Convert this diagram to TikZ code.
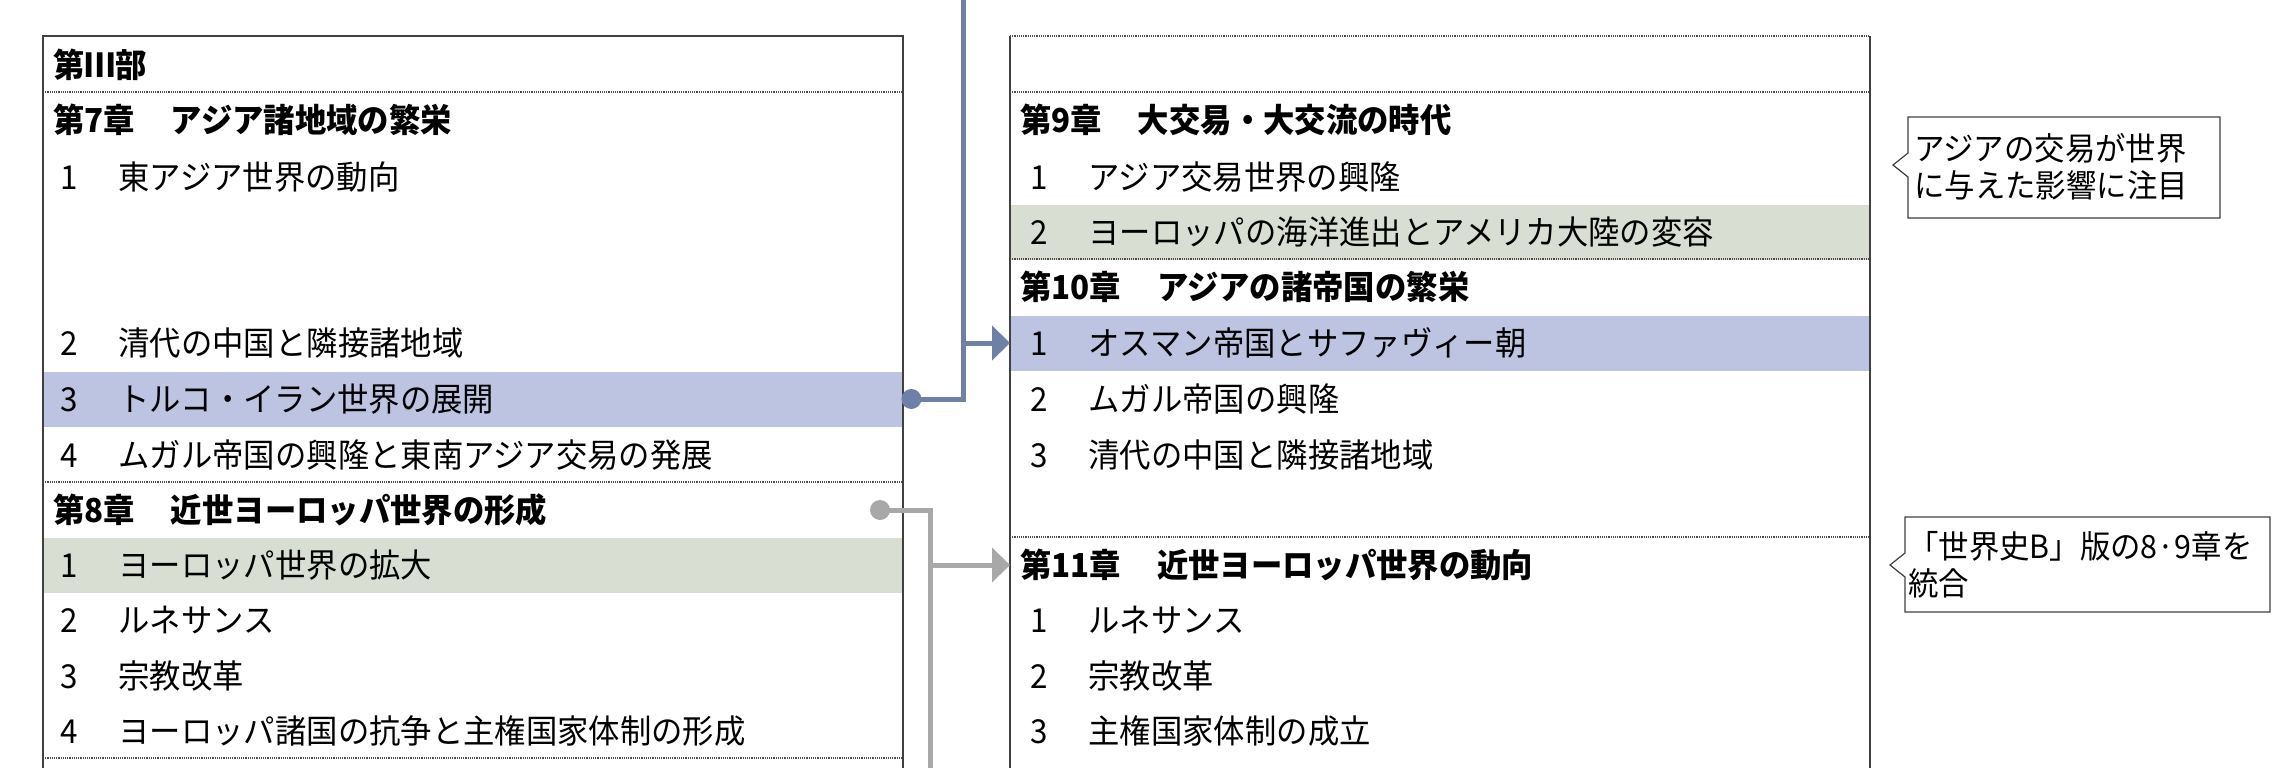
\documentclass[tikz,border=0pt]{standalone}
\usepackage{fontspec}
\usetikzlibrary{arrows.meta}
\newfontfamily\jp[FakeStretch=0.95]{Noto Sans CJK JP}
\definecolor{bandblue}{RGB}{189,196,225}
\definecolor{bandgreen}{RGB}{217,222,211}
\definecolor{linkblue}{RGB}{110,127,168}
\definecolor{linkgray}{RGB}{168,168,168}
\newcommand{\numgap}{\hspace{41pt}}
\newcommand{\headgap}{\hspace{36pt}}
\tikzset{
  band/.style={fill=#1, draw=none, minimum width=860, minimum height=55, anchor=west, inner sep=0pt},
  item/.style={anchor=west, inner sep=0pt, font=\jp\fontsize{33}{37}\selectfont},
  head/.style={item, font=\jp\bfseries\fontsize{33}{37}\selectfont},
  sep/.style={densely dotted, line width=1.2pt, draw=black!70},
  frame/.style={line width=1.4pt, draw=black!75},
  link/.style={line width=5pt, draw=#1},
  note/.style={item, align=left, font=\jp\fontsize{32}{37}\selectfont}
}
\begin{document}
\begin{tikzpicture}[x=1pt, y=-1pt]
  \useasboundingbox (0,0) rectangle (2278,768);

  % bands
  \node[band=bandblue] (l73) at (43,399) {};
  \node[band=bandgreen] (l81) at (43,565) {};
  \node[band=bandgreen] (r92) at (1010,232) {};
  \node[band=bandblue] (r101) at (1010,343) {};

  % left box
  \draw[frame] (43,768) -- (43,36) -- (903,36) -- (903,768);
  \draw[sep] (43,92) -- (903,92);
  \draw[sep] (43,482) -- (903,482);
  \draw[sep] (43,758) -- (903,758);
  \node[head] (lpart) at (53,65) {第Ⅲ部};
  \node[head] (l7) at (53,120) {第7章\headgap アジア諸地域の繁栄};
  \node[item] at (60,177) {1\numgap 東アジア世界の動向};
  \node[item] at (60,343) {2\numgap 清代の中国と隣接諸地域};
  \node[item] at (60,399) {3\numgap トルコ・イラン世界の展開};
  \node[item] at (60,455) {4\numgap ムガル帝国の興隆と東南アジア交易の発展};
  \node[head] (l8) at (53,510) {第8章\headgap 近世ヨーロッパ世界の形成};
  \node[item] at (60,565) {1\numgap ヨーロッパ世界の拡大};
  \node[item] at (60,620) {2\numgap ルネサンス};
  \node[item] at (60,676) {3\numgap 宗教改革};
  \node[item] at (60,731) {4\numgap ヨーロッパ諸国の抗争と主権国家体制の形成};

  % right box
  \draw[frame] (1010,768) -- (1010,36);
  \draw[frame] (1870,768) -- (1870,36);
  \draw[sep] (1010,36) -- (1870,36);
  \draw[sep] (1010,92) -- (1870,92);
  \draw[sep] (1010,259) -- (1870,259);
  \draw[sep] (1010,537) -- (1870,537);
  \node[head] (r9) at (1020,120) {第9章\headgap 大交易・大交流の時代};
  \node[item] at (1030,177) {1\numgap アジア交易世界の興隆};
  \node[item] at (1030,232) {2\numgap ヨーロッパの海洋進出とアメリカ大陸の変容};
  \node[head] (r10) at (1020,287) {第10章\headgap アジアの諸帝国の繁栄};
  \node[item] at (1030,343) {1\numgap オスマン帝国とサファヴィー朝};
  \node[item] at (1030,399) {2\numgap ムガル帝国の興隆};
  \node[item] at (1030,455) {3\numgap 清代の中国と隣接諸地域};
  \node[head] (r11) at (1020,565) {第11章\headgap 近世ヨーロッパ世界の動向};
  \node[item] at (1030,620) {1\numgap ルネサンス};
  \node[item] at (1030,676) {2\numgap 宗教改革};
  \node[item] at (1030,731) {3\numgap 主権国家体制の成立};

  % connectors
  \coordinate (btop) at (963,0);
  \coordinate (gbot) at (930,768);
  \coordinate (gdot) at (880,510);
  \draw[link=linkblue] (l73.east) -| (btop);
  \fill[linkblue] (l73.east) ++(8,0) circle (10);
  \draw[link=linkblue, -{Triangle[length=18pt,width=34pt]}] (r101.west -| btop) -- (r101.west);
  \draw[link=linkgray] (gdot) -| (gbot);
  \fill[linkgray] (gdot) circle (10);
  \draw[link=linkgray, -{Triangle[length=18pt,width=34pt]}] (r11.west -| gbot) -- ([xshift=-10pt]r11.west);

  % notes
  \draw[frame, line width=1.2pt, fill=white] (1908,117) -- (2220,117) -- (2220,218) -- (1908,218)
    -- (1908,177) -- (1893,165) -- (1908,153) -- cycle;
  \node[note] (n1) at (1914,167) {アジアの交易が世界\\に与えた影響に注目};
  \draw[frame, line width=1.2pt, fill=white] (1905,517) -- (2270,517) -- (2270,612) -- (1905,612)
    -- (1905,577) -- (1890,565) -- (1905,553) -- cycle;
  \node[note] (n2) at (1908,565) {「世界史B」版の8·9章を\\統合};
\end{tikzpicture}
\end{document}
